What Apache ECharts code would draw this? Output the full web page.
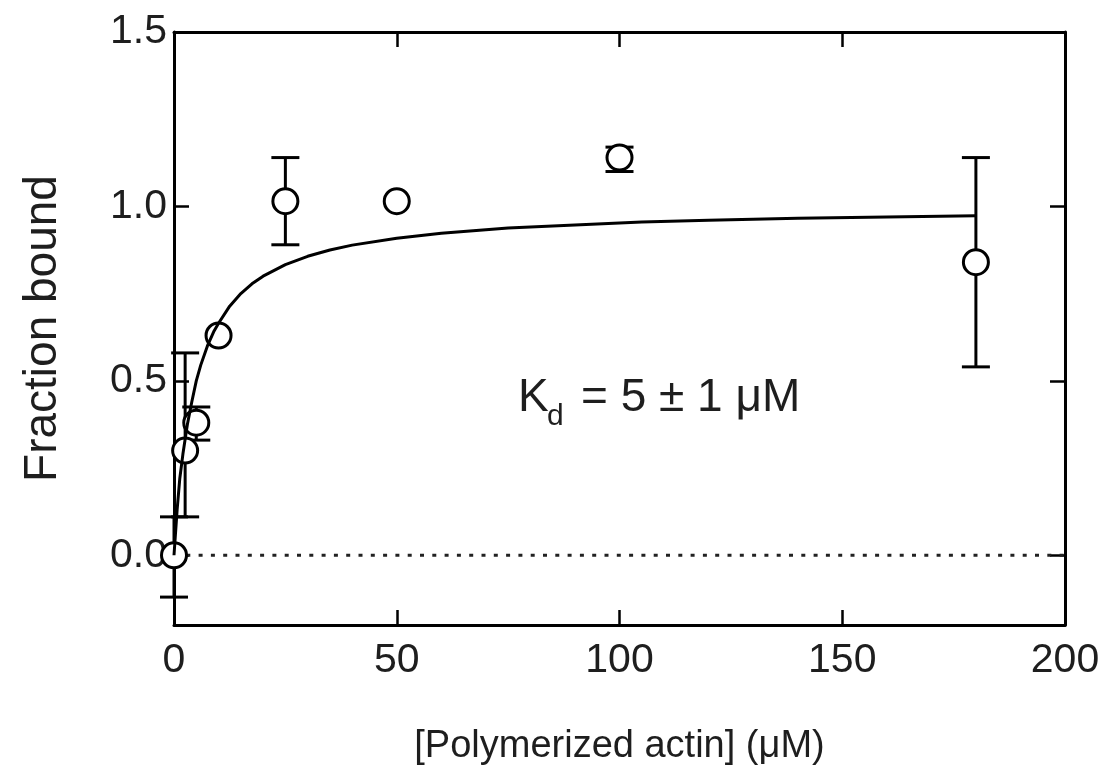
<!DOCTYPE html>
<html>
<head>
<meta charset="utf-8">
<script src="https://cdn.jsdelivr.net/npm/echarts@6/dist/echarts.min.js"></script>
<style>
html,body{margin:0;padding:0;background:#fff;}
#chart{width:1110px;height:777px;}
</style>
</head>
<body>
<div id="chart"></div>
<script>
// measured points (x in uM, fraction bound) with error bar ends
var actinConc = [0, 2.5, 5, 10, 25, 50, 100, 180];
var fracBound = [0, 0.30, 0.38, 0.63, 1.015, 1.015, 1.14, 0.84];
var errLow    = [-0.12, 0.11, 0.33, null, 0.89, null, 1.10, 0.54];
var errHigh   = [0.11, 0.58, 0.425, null, 1.14, null, 1.17, 1.14];

// fitted curve
var fitX = [0, 0.7, 1.3, 2, 3, 4, 5, 6, 7.5, 9, 10, 12.5, 15, 17.5, 20, 25, 30, 35, 40, 50, 60, 75, 90, 105, 120, 140, 160, 180];
var fitY = [0, 0.13, 0.22, 0.29, 0.375, 0.44, 0.50, 0.545, 0.60, 0.643, 0.665, 0.714, 0.75, 0.778, 0.80, 0.833, 0.857, 0.875, 0.889, 0.909, 0.923, 0.938, 0.947, 0.955, 0.96, 0.966, 0.97, 0.973];

var zeroLineX = [0, 200];
var yTicks = [0, 0.5, 1.0, 1.5];

var fontFam = '"Liberation Sans", Arial, Helvetica, sans-serif';
var txtColor = '#1e1e1e';

var pts = [];
var bars = [];
for (var i = 0; i < actinConc.length; i++) {
	pts.push([actinConc[i], fracBound[i]]);
	if (errLow[i] != null) bars.push([actinConc[i], errLow[i], errHigh[i]]);
}
var fit = [];
for (var j = 0; j < fitX.length; j++) fit.push([fitX[j], fitY[j]]);
var zero = [];
for (var k = 0; k < zeroLineX.length; k++) zero.push([zeroLineX[k], 0]);

function errBar(params, api) {
	var x = api.value(0);
	var lo = api.coord([x, api.value(1)]);
	var hi = api.coord([x, api.value(2)]);
	var half = 14;
	var st = {stroke: '#000', lineWidth: 3};
	return {
		type: 'group',
		children: [
			{type: 'line', shape: {x1: lo[0], y1: lo[1], x2: hi[0], y2: hi[1]}, style: st},
			{type: 'line', shape: {x1: lo[0] - half, y1: lo[1], x2: lo[0] + half, y2: lo[1]}, style: st},
			{type: 'line', shape: {x1: hi[0] - half, y1: hi[1], x2: hi[0] + half, y2: hi[1]}, style: st}
		]
	};
}

function frameAxis(pos, isX, showLabel) {
	var ax = {
		type: 'value',
		position: pos,
		min: isX ? 0 : -0.2,
		max: isX ? 200 : 1.5,
		axisLine: {show: true, onZero: false, lineStyle: {color: '#000', width: 3}},
		axisTick: {show: true, inside: true, length: 15, lineStyle: {color: '#000', width: 2.5}},
		splitLine: {show: false},
		axisLabel: {show: showLabel, color: txtColor, fontSize: 41, fontFamily: fontFam}
	};
	if (isX) {
		ax.interval = 50;
		ax.axisLabel.margin = 15;
	} else {
		ax.axisTick.customValues = yTicks;
		ax.axisLabel.customValues = yTicks;
		ax.axisLabel.margin = 7;
		ax.axisLabel.formatter = function (v) { return v.toFixed(1); };
	}
	return ax;
}

var chart = echarts.init(document.getElementById('chart'));
var xb = frameAxis('bottom', true, true);
xb.name = '[Polymerized actin] (\u03bcM)';
xb.nameLocation = 'middle';
xb.nameGap = 103;
xb.nameTextStyle = {color: txtColor, fontSize: 38, fontFamily: fontFam};
var yl = frameAxis('left', false, true);
yl.name = 'Fraction bound';
yl.nameLocation = 'middle';
yl.nameGap = 108;
yl.nameTextStyle = {color: txtColor, fontSize: 46, fontFamily: fontFam};

var option = {
	backgroundColor: '#fff',
	animation: false,
	grid: {left: 174, right: 45, top: 32, bottom: 152},
	xAxis: [xb, frameAxis('top', true, false)],
	yAxis: [yl, frameAxis('right', false, false)],
	series: [
		{
			type: 'line',
			data: zero,
			showSymbol: false,
			z: 1,
			lineStyle: {color: '#222', width: 3, type: [4, 8.3]}
		},
		{
			type: 'custom',
			renderItem: errBar,
			data: bars,
			z: 2
		},
		{
			type: 'scatter',
			data: pts,
			symbol: 'circle',
			symbolSize: 25,
			z: 3,
			itemStyle: {color: '#fff', borderColor: '#000', borderWidth: 3, opacity: 1}
		},
		{
			type: 'line',
			data: fit,
			showSymbol: false,
			smooth: false,
			z: 4,
			lineStyle: {color: '#000', width: 3}
		}
	],
	graphic: [
		{type: 'text', left: 518, top: 375, style: {text: 'K', fontSize: 46, fontFamily: fontFam, fill: txtColor}},
		{type: 'text', left: 547, top: 402, style: {text: 'd', fontSize: 30, fontFamily: fontFam, fill: txtColor}},
		{type: 'text', left: 581, top: 375, style: {text: '= 5 \u00b1 1 \u03bcM', fontSize: 46, fontFamily: fontFam, fill: txtColor}}
	]
};
chart.setOption(option);
</script>
</body>
</html>
